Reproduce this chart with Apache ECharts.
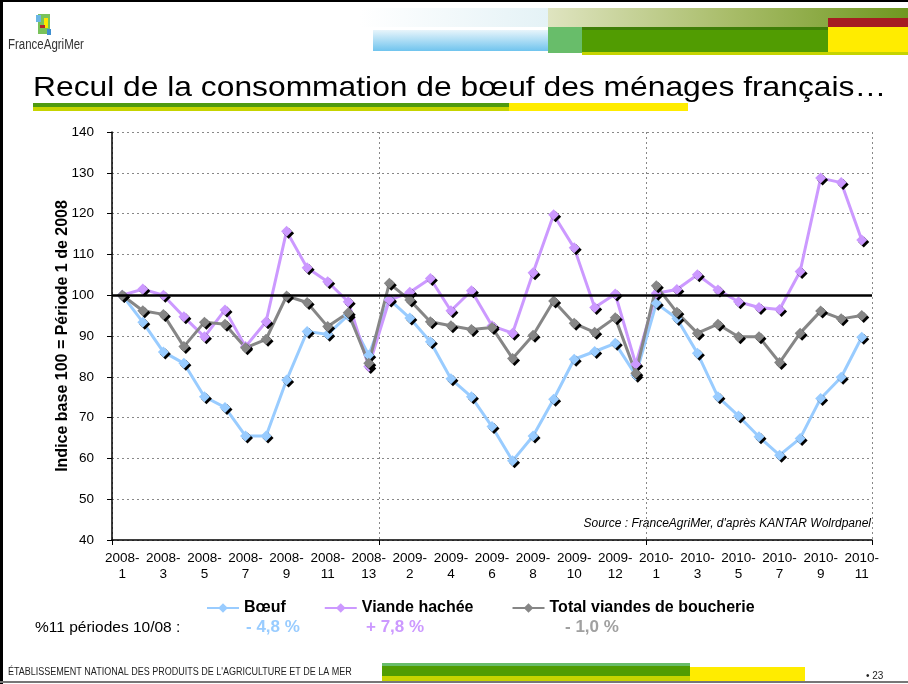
<!DOCTYPE html>
<html>
<head>
<meta charset="utf-8">
<script src="https://cdn.jsdelivr.net/npm/echarts@6/dist/echarts.min.js"></script>
<style>
  html, body { margin: 0; padding: 0; background: #fff; }
  #container { width: 908px; height: 684px; }
</style>
</head>
<body>
<div id="container"></div>
<script>
var periodes = [
    '2008-1','2008-2','2008-3','2008-4','2008-5','2008-6','2008-7','2008-8','2008-9','2008-10','2008-11','2008-12','2008-13',
    '2009-1','2009-2','2009-3','2009-4','2009-5','2009-6','2009-7','2009-8','2009-9','2009-10','2009-11','2009-12','2009-13',
    '2010-1','2010-2','2010-3','2010-4','2010-5','2010-6','2010-7','2010-8','2010-9','2010-10','2010-11'
];
var boeuf = [
    100, 93.4, 86.1, 83.3, 75.1, 72.5, 65.5, 65.5, 79.2, 91.1, 90.4, 95.1, 85.3,
    99, 94.4, 88.6, 79.5, 75.1, 67.8, 59.4, 65.5, 74.5, 84.3, 86.2, 88.2, 80.4,
    98, 94.3, 85.8, 75.1, 70.4, 65.3, 60.8, 64.9, 74.7, 79.9, 89.7
];
var viandeHachee = [
    100, 101.5, 100, 94.7, 89.8, 96.4, 87.4, 93.5, 115.7, 106.7, 103.3, 98.4, 82.5,
    98.8, 100.7, 104.1, 96.2, 101.1, 92.5, 90.7, 105.5, 119.7, 111.6, 97, 100.3, 83.1,
    100.5, 101.4, 105, 101.3, 98.4, 97, 96.5, 105.8, 128.7, 127.6, 113.5
];
var totalBoucherie = [
    100, 96.2, 95.3, 87.4, 93.4, 92.9, 87.1, 89.2, 99.8, 98.2, 92.3, 95.7, 83.3,
    102.9, 98.8, 93.5, 92.5, 91.6, 92.1, 84.5, 90.2, 98.6, 93.1, 90.9, 94.5, 80.9,
    102.3, 95.8, 90.7, 92.9, 89.8, 89.8, 83.5, 90.7, 96.1, 94.2, 95
];
var evolutions = ['- 4,8 %', '+ 7,8 %', '- 1,0 %'];

var couleurs = ['#99CCFF', '#CC99FF', '#868686'];

var myChart = echarts.init(document.getElementById('container'));

function serie(nom, data, couleur, extra) {
    var s = {
        name: nom,
        type: 'line',
        data: data,
        symbol: 'diamond',
        symbolSize: 11,
        lineStyle: { color: couleur, width: 3 },
        itemStyle: {
            color: couleur,
            shadowColor: '#000',
            shadowOffsetX: 2,
            shadowOffsetY: 2,
            shadowBlur: 0
        },
        emphasis: { disabled: true },
        animation: false
    };
    if (extra) s.markLine = extra;
    return s;
}

var police = 'Liberation Sans, Arial, sans-serif';

var option = {
    backgroundColor: '#fff',
    textStyle: { fontFamily: police },
    legend: {
        top: 595,
        left: 201,
        itemWidth: 32,
        itemHeight: 12,
        itemGap: 38,
        textStyle: { fontSize: 16, fontWeight: 'bold', color: '#000' },
        itemStyle: { shadowBlur: 0, shadowOffsetX: 0, shadowOffsetY: 0, shadowColor: 'transparent' },
        data: ['Bœuf', 'Viande hachée', 'Total viandes de boucherie']
    },
    grid: { left: 112, right: 36, top: 132, bottom: 144 },
    xAxis: {
        type: 'category',
        data: periodes,
        boundaryGap: true,
        axisLine: { lineStyle: { color: '#000', width: 1.5 } },
        axisTick: { show: true, interval: 12, length: 5, lineStyle: { color: '#000' } },
        splitLine: { show: true, interval: 12, lineStyle: { color: '#888', type: [2, 3], width: 1 } },
        axisLabel: {
            interval: 1,
            color: '#000',
            fontSize: 13.5,
            lineHeight: 16,
            margin: 10,
            formatter: function (v) { return v.replace('-', '-\n'); }
        }
    },
    yAxis: {
        type: 'value',
        min: 40,
        max: 140,
        interval: 10,
        name: 'Indice base 100 = Période 1 de 2008',
        nameLocation: 'middle',
        nameGap: 41,
        nameMoveOverlap: false,
        nameTextStyle: { fontSize: 16, fontWeight: 'bold', color: '#000' },
        axisLine: { show: true, lineStyle: { color: '#000', width: 1.5 } },
        axisTick: { show: true, length: 5, lineStyle: { color: '#000' } },
        splitLine: { lineStyle: { color: '#888', type: [2, 3], width: 1 } },
        axisLabel: { color: '#000', fontSize: 13.5, margin: 18 }
    },
    series: [
        serie('Bœuf', boeuf, couleurs[0], {
            silent: true,
            symbol: 'none',
            label: { show: false },
            lineStyle: { color: '#000', width: 2.5, type: 'solid' },
            data: [{ yAxis: 100 }],
            animation: false
        }),
        serie('Viande hachée', viandeHachee, couleurs[1]),
        serie('Total viandes de boucherie', totalBoucherie, couleurs[2])
    ],
    graphic: [
        // cadre
        { type: 'rect', shape: { x: 0, y: 0, width: 3, height: 684 }, style: { fill: '#000' } },
        { type: 'rect', shape: { x: 0, y: 0, width: 908, height: 2 }, style: { fill: '#000' } },
        { type: 'rect', shape: { x: 0, y: 681, width: 908, height: 2 }, style: { fill: '#777' } },
        // bandeau haut
        { type: 'rect', shape: { x: 360, y: 8, width: 190, height: 19 },
          style: { fill: new echarts.graphic.LinearGradient(0, 0, 1, 0, [{ offset: 0, color: '#ffffff' }, { offset: 1, color: '#e4f2f6' }]) } },
        { type: 'rect', shape: { x: 548, y: 8, width: 360, height: 19 },
          style: { fill: new echarts.graphic.LinearGradient(0, 0, 1, 0, [{ offset: 0, color: '#dfe4c0' }, { offset: 0.5, color: '#a9bd6a' }, { offset: 1, color: '#6f9820' }]) } },
        { type: 'rect', shape: { x: 373, y: 30, width: 176, height: 21 },
          style: { fill: new echarts.graphic.LinearGradient(0, 0, 0, 1, [{ offset: 0, color: '#e8f5fb' }, { offset: 1, color: '#70c4ee' }]) } },
        { type: 'rect', shape: { x: 828, y: 18, width: 80, height: 9 }, style: { fill: '#a51d22' } },
        { type: 'rect', shape: { x: 548, y: 27, width: 34, height: 26 }, style: { fill: '#68bd6a' } },
        { type: 'rect', shape: { x: 582, y: 27, width: 246, height: 26 }, style: { fill: '#519c02' } },
        { type: 'rect', shape: { x: 582, y: 27, width: 246, height: 3 }, style: { fill: '#3f7f08' } },
        { type: 'rect', shape: { x: 828, y: 27, width: 80, height: 26 }, style: { fill: '#ffec00' } },
        { type: 'rect', shape: { x: 582, y: 52, width: 326, height: 3 }, style: { fill: '#c6d400' } },
        // logo
        { type: 'rect', shape: { x: 38, y: 14, width: 12, height: 20 }, style: { fill: '#79c25a' } },
        { type: 'rect', shape: { x: 36, y: 15, width: 5, height: 7 }, style: { fill: '#6ab6e4' } },
        { type: 'rect', shape: { x: 44, y: 18, width: 4, height: 10 }, style: { fill: '#ffe600' } },
        { type: 'rect', shape: { x: 40, y: 25, width: 5, height: 3 }, style: { fill: '#b3262a' } },
        { type: 'rect', shape: { x: 47, y: 29, width: 4, height: 6 }, style: { fill: '#3f8fd0' } },
        { type: 'text', x: 8, y: 38, scaleX: 0.82, style: { text: 'FranceAgriMer', fontSize: 14, fontFamily: police, fill: '#333' } },
        // titre (police etiree comme sur la diapo)
        { type: 'text', x: 33, y: 74, scaleX: 1.135, style: { text: 'Recul de la consommation de bœuf des ménages français…', fontSize: 28, fontFamily: police, fill: '#000' } },
        { type: 'rect', shape: { x: 33, y: 103, width: 476, height: 4 }, style: { fill: '#4f9a10' } },
        { type: 'rect', shape: { x: 33, y: 107, width: 476, height: 4 }, style: { fill: '#c6d400' } },
        { type: 'rect', shape: { x: 509, y: 103, width: 179, height: 8 }, style: { fill: '#ffec00' } },
        // source
        { type: 'text', right: 37, top: 518, style: { text: "Source : FranceAgriMer, d'après KANTAR Wolrdpanel", fontSize: 12, fontStyle: 'italic', fill: '#000', fontFamily: police } },
        // evolutions
        { type: 'text', left: 35, top: 620, style: { text: '%11 périodes 10/08 :', fontSize: 15.5, fill: '#000', fontFamily: police } },
        { type: 'text', left: 246, top: 619, style: { text: evolutions[0], fontSize: 17, fontWeight: 'bold', fill: couleurs[0], fontFamily: police } },
        { type: 'text', left: 366, top: 619, style: { text: evolutions[1], fontSize: 17, fontWeight: 'bold', fill: couleurs[1], fontFamily: police } },
        { type: 'text', left: 565, top: 619, style: { text: evolutions[2], fontSize: 17, fontWeight: 'bold', fill: '#a0a0a0', fontFamily: police } },
        // pied de page
        { type: 'text', x: 8, y: 667, scaleX: 0.9, style: { text: "ÉTABLISSEMENT NATIONAL DES PRODUITS DE L'AGRICULTURE ET DE LA MER", fontSize: 10, fill: '#222', fontFamily: police } },
        { type: 'rect', shape: { x: 382, y: 663, width: 308, height: 3 }, style: { fill: '#68bd6a' } },
        { type: 'rect', shape: { x: 382, y: 666, width: 308, height: 10 }, style: { fill: '#519c02' } },
        { type: 'rect', shape: { x: 382, y: 676, width: 308, height: 5 }, style: { fill: '#c6d400' } },
        { type: 'rect', shape: { x: 690, y: 667, width: 115, height: 14 }, style: { fill: '#ffec00' } },
        { type: 'text', left: 866, top: 671, style: { text: '• 23', fontSize: 10, fill: '#222', fontFamily: police } }
    ]
};

if (option && typeof option === 'object') {
    myChart.setOption(option);
}
</script>
</body>
</html>
